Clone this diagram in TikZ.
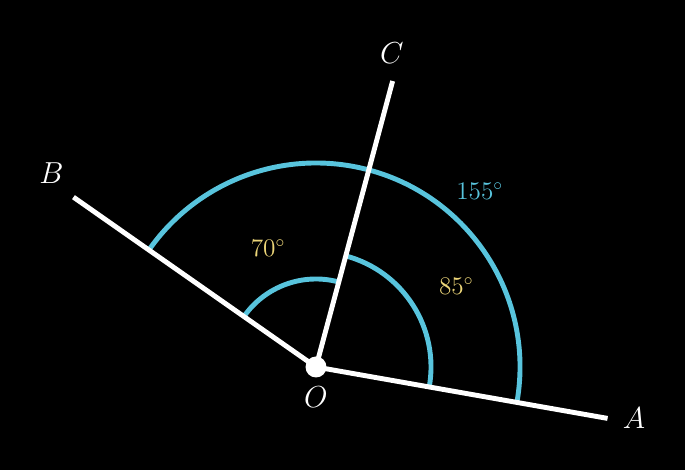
\documentclass[tikz,border=0pt]{standalone}
\usepackage{tikz}
\usepackage{xcolor}
\usepackage{amsmath}
\usetikzlibrary{calc}
\definecolor{arcBlue}{RGB}{88, 196, 221}
\definecolor{labelYellow}{RGB}{236, 213, 120}
\definecolor{rayWhite}{RGB}{255, 255, 255}

\begin{document}
\begin{tikzpicture}[scale=0.02,
    ray/.style={draw=rayWhite, line width=2.8pt},
    anglearc/.style={draw=arcBlue, line width=2.8pt},
    pointlabel/.style={text=rayWhite, font=\fontsize{19}{22}\selectfont},
    anglelabel/.style={font=\fontsize{14}{16}\selectfont}]
            % Background
            \fill[black] (-316,-103) rectangle (369,367);

            % Points
            \coordinate (O) at (0,0);
            \coordinate (A) at (-10:296);
            \coordinate (C) at (75:296);
            \coordinate (B) at (145:296);

            % Arcs
            \draw[anglearc] ($(O)+(-10:204)$) arc[start angle=-10, end angle=145, radius=204];
            \draw[anglearc] ($(O)+(-10:115)$) arc[start angle=-10, end angle=75, radius=115];
            \draw[anglearc] ($(O)+(75:88)$) arc[start angle=75, end angle=145, radius=88];

            % Rays
            \draw[ray] (O) -- (A);
            \draw[ray] (O) -- (C);
            \draw[ray] (O) -- (B);
            \node[circle, fill=rayWhite, inner sep=0pt, minimum size=0.42cm] (dotO) at (O) {};

            % Labels
            \node[pointlabel] (labA) at (-9.1:322) {$A$};
            \node[pointlabel] (labB) at (143.8:328) {$B$};
            \node[pointlabel] (labC) at (76.4:323) {$C$};
            \node[pointlabel] (labO) at (0,-30) {$O$};
            \node[anglelabel, text=arcBlue] (ang155) at (47:240) {$155^\circ$};
            \node[anglelabel, text=labelYellow] (ang85) at (30:162) {$85^\circ$};
            \node[anglelabel, text=labelYellow] (ang70) at (112:128) {$70^\circ$};
        \end{tikzpicture}
\end{document}
